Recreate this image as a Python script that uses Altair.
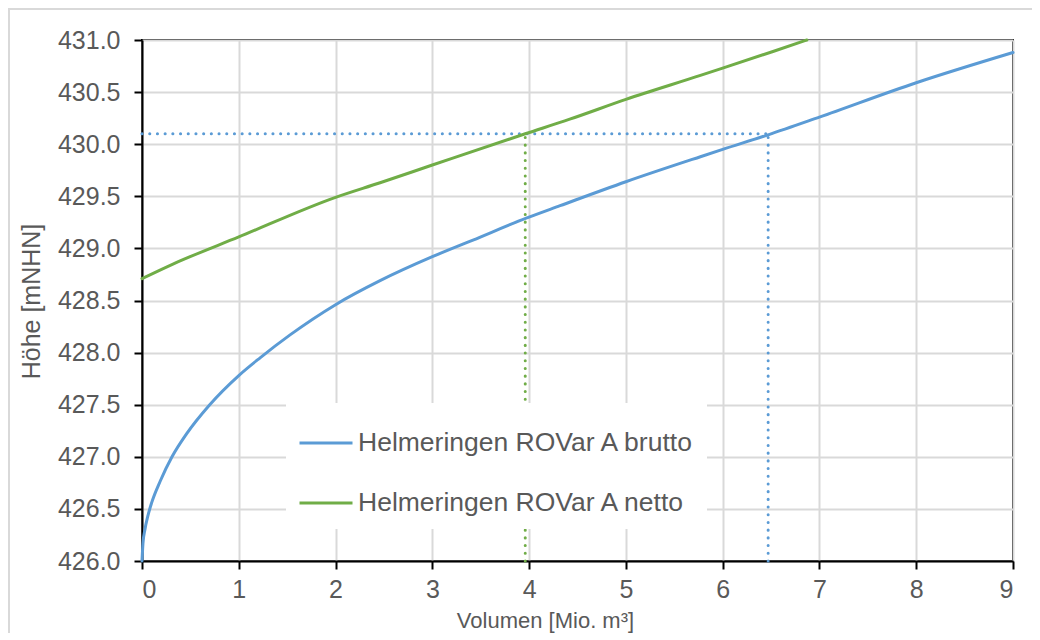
import altair as alt
import pandas as pd

# --- data ---
series_names = ["Helmeringen ROVar A brutto", "Helmeringen ROVar A netto"]
series_colors = ["#5B9BD5", "#70AD47"]

brutto_vol = [0.00, 0.01, 0.03, 0.06, 0.10, 0.19, 0.31, 0.46, 0.70, 1.00, 1.22, 1.53, 2.00,
              2.46, 3.00, 3.42, 3.97, 4.32, 5.00, 5.77, 6.00, 6.47, 7.00, 8.00, 9.00]
brutto_h = [426.00, 426.17, 426.30, 426.43, 426.56, 426.77, 427.00, 427.22, 427.50, 427.78, 427.95,
            428.17, 428.46, 428.69, 428.92, 429.08, 429.29, 429.41, 429.64, 429.88, 429.95,
            430.09, 430.26, 430.59, 430.88]

netto_vol = [0.00, 0.32, 1.00, 2.00, 2.46, 3.00, 3.96, 4.42, 5.00, 5.77, 6.00, 6.52, 6.87]
netto_h = [428.71, 428.85, 429.11, 429.49, 429.63, 429.80, 430.10, 430.24, 430.43,
           430.66, 430.73, 430.89, 431.00]

ref_level = 430.1
ref_vol_brutto = 6.47
ref_vol_netto = 3.96

x_ticks = [0, 1, 2, 3, 4, 5, 6, 7, 8, 9]
y_ticks = [426.0, 426.5, 427.0, 427.5, 428.0, 428.5, 429.0, 429.5, 430.0, 430.5, 431.0]

FONT = "Liberation Sans"
TXT = "#595959"

curves = pd.concat([
    pd.DataFrame({"V": brutto_vol, "H": brutto_h, "Serie": series_names[0], "o": range(len(brutto_vol))}),
    pd.DataFrame({"V": netto_vol, "H": netto_h, "Serie": series_names[1], "o": range(len(netto_vol))}),
])

rules = pd.DataFrame({
    "x": [0.0, ref_vol_brutto, ref_vol_netto],
    "x2": [ref_vol_brutto, ref_vol_brutto, ref_vol_netto],
    "y": [ref_level, 426.0, 426.0],
    "y2": [ref_level, ref_level, ref_level],
    "Serie": [series_names[0], series_names[0], series_names[1]],
})

xscale = alt.Scale(domain=[0, 9], nice=False, zero=False)
yscale = alt.Scale(domain=[426, 431], nice=False, zero=False)
cscale = alt.Scale(domain=series_names, range=series_colors)

legend = alt.Legend(orient="none", legendX=144, legendY=363, title=None,
                    symbolType="stroke", symbolSize=2809, symbolStrokeWidth=3,
                    labelFontSize=26.5, labelFont=FONT, labelColor=TXT,
                    labelLimit=600, labelOffset=4,
                    fillColor="white", padding=12, rowPadding=18)

one = pd.DataFrame({"a": [0]})
frame_left = alt.Chart(one).mark_rule(stroke="#D9D9D9", strokeWidth=2).encode(
    x=alt.value(-133), y=alt.value(-32), y2=alt.value(700)
)
frame_top = alt.Chart(one).mark_rule(stroke="#D9D9D9", strokeWidth=2).encode(
    x=alt.value(-134), x2=alt.value(960), y=alt.value(-31)
)

ref_lines = alt.Chart(rules).mark_rule(
    strokeWidth=3, strokeDash=[0.1, 7.6], strokeCap="round"
).encode(
    x=alt.X("x:Q", scale=xscale),
    x2="x2:Q",
    y=alt.Y("y:Q", scale=yscale),
    y2="y2:Q",
    color=alt.Color("Serie:N", scale=cscale, legend=legend),
)

lines = alt.Chart(curves).mark_line(strokeWidth=3, strokeCap="round", interpolate="monotone").encode(
    x=alt.X("V:Q", scale=xscale,
            axis=alt.Axis(values=x_ticks, format="d", title="Volumen  [Mio. m³]",
                          titleX=403, titleY=66, titleAlign="center", titleBaseline="alphabetic",
                          titleFontSize=22, labelPadding=8)),
    y=alt.Y("H:Q", scale=yscale,
            axis=alt.Axis(values=y_ticks, format=".1f", title="Höhe [mNHN]",
                          titleX=-103, titleY=261, titleAlign="center", titleBaseline="alphabetic",
                          titleAngle=270, titleFontSize=25, labelPadding=14)),
    color=alt.Color("Serie:N", scale=cscale, legend=legend),
    order="o:Q",
)

chart = alt.layer(frame_left, frame_top, ref_lines, lines).properties(
    width=871, height=521,
    autosize=alt.AutoSizeParams(type="none"),
    padding={"left": 134, "top": 32, "right": 19, "bottom": 72},
    background="white",
).configure_view(
    stroke="black", strokeWidth=2
).configure_axis(
    grid=True, gridColor="#D9D9D9", gridWidth=2,
    domainColor="black", domainWidth=2,
    tickColor="black", tickWidth=2, tickSize=8,
    labelFont=FONT, labelFontSize=25, labelColor=TXT,
    titleFont=FONT, titleColor=TXT, titleFontWeight="normal",
)

chart.save("out.html", embed_options={"renderer": "svg", "actions": False})
